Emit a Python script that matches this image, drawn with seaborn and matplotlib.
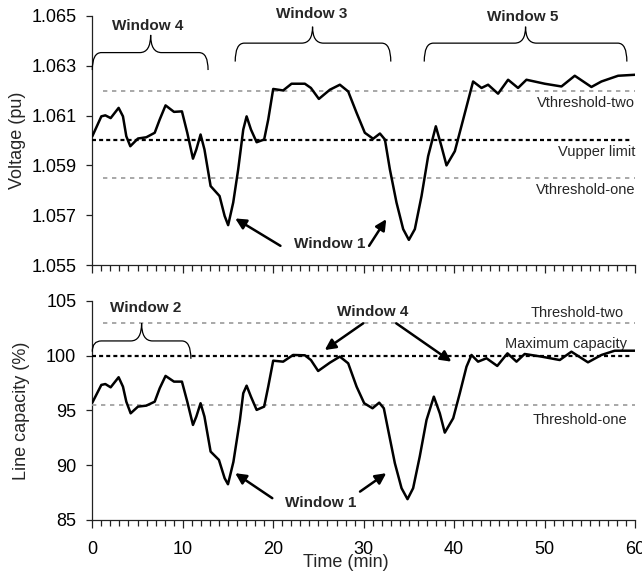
import numpy as np
import pandas as pd
import matplotlib
matplotlib.use("Agg")
import matplotlib.pyplot as plt
from matplotlib.path import Path
from matplotlib.patches import PathPatch
from matplotlib.ticker import MultipleLocator
import seaborn as sns

# ---------------- data ----------------
time_v = [0.0, 1.0, 1.44, 2.03, 2.91, 3.39, 3.76, 4.2, 5.05, 5.97, 6.9, 7.45, 8.1, 9.03, 9.91,
          10.5, 11.13, 11.5, 11.97, 12.4, 13.08, 14.07, 14.63, 15.02, 15.58, 16.13, 16.69, 17.06,
          17.54, 18.17, 19.0, 19.45, 20.0, 21.1, 22.03, 23.5, 24.17, 25.05, 26.27, 27.37, 28.29,
          29.22, 30.13, 31.05, 31.8, 32.35, 32.9, 33.63, 34.37, 35.0, 35.66, 36.4, 37.13, 37.98,
          38.6, 39.16, 40.08, 41.0, 42.1, 43.03, 43.76, 44.86, 45.97, 47.07, 48.0, 50.02, 51.87,
          53.34, 55.18, 56.29, 58.13, 60.0]
voltage = [1.06017, 1.06097, 1.06101, 1.0609, 1.06131, 1.06097, 1.06017, 1.05977, 1.06008, 1.06013,
           1.06031, 1.06084, 1.06141, 1.06115, 1.06117, 1.06031, 1.05927, 1.05964, 1.06024, 1.05964,
           1.05817, 1.05777, 1.05697, 1.0566, 1.05751, 1.05884, 1.06044, 1.06097, 1.06044, 1.05993,
           1.06004, 1.06084, 1.06207, 1.06201, 1.06228, 1.06228, 1.06211, 1.06167, 1.06204, 1.06224,
           1.06197, 1.06111, 1.06031, 1.06007, 1.06028, 1.06004, 1.05884, 1.05751, 1.05644, 1.05601,
           1.05644, 1.05777, 1.05937, 1.06057, 1.05977, 1.059, 1.05957, 1.06084, 1.06237, 1.06211,
           1.06224, 1.06188, 1.06244, 1.06211, 1.06244, 1.06228, 1.06217, 1.0626, 1.06215, 1.06237,
           1.0626, 1.06264]

time_c = [0.0, 1.0, 1.44, 2.03, 2.91, 3.39, 3.76, 4.24, 5.05, 5.97, 6.9, 7.45, 8.1, 9.03, 9.91,
          10.5, 11.13, 11.5, 11.97, 12.4, 13.08, 14.0, 14.63, 15.0, 15.6, 16.32, 16.69, 17.06,
          17.54, 18.17, 19.0, 19.45, 20.0, 21.1, 22.2, 23.5, 24.17, 24.97, 26.27, 27.37, 28.29,
          29.22, 30.06, 30.98, 31.72, 32.23, 32.71, 33.45, 34.19, 34.85, 35.47, 36.2, 36.95, 37.76,
          38.42, 38.97, 39.9, 40.63, 41.37, 41.92, 42.65, 43.58, 44.77, 45.9, 46.9, 47.8, 49.66,
          51.68, 52.97, 54.8, 56.29, 57.76, 60.0]
capacity = [95.7, 97.32, 97.4, 97.1, 98.02, 97.16, 95.79, 94.73, 95.34, 95.43, 95.79, 97.01, 98.14,
            97.62, 97.62, 95.79, 93.67, 94.43, 95.65, 94.43, 91.24, 90.48, 88.81, 88.26, 90.3, 94.12,
            96.56, 97.25, 96.25, 95.04, 95.34, 97.16, 99.53, 99.44, 100.05, 100.02, 99.59, 98.59,
            99.35, 99.9, 99.29, 97.16, 95.65, 95.19, 95.7, 95.19, 93.21, 90.18, 87.9, 86.9, 87.9,
            90.78, 94.12, 96.25, 94.73, 92.97, 94.28, 96.56, 98.98, 100.05, 99.44, 99.75, 99.05,
            100.2, 99.44, 100.14, 99.9, 99.59, 100.35, 99.38, 100.05, 100.44, 100.44]

v_levels = [1.0620, 1.0600, 1.0585]
v_level_names = ["Vthreshold-two", "Vupper limit", "Vthreshold-one"]
c_levels = [103.0, 100.0, 95.5]
c_level_names = ["Threshold-two", "Maximum capacity", "Threshold-one"]

v_ticks = [1.055, 1.057, 1.059, 1.061, 1.063, 1.065]
c_ticks = [85, 90, 95, 100, 105]
x_ticks = [0, 10, 20, 30, 40, 50, 60]

# ---------------- style ----------------
sns.set_style("ticks")
plt.rcParams['font.family'] = ['Liberation Sans', 'DejaVu Sans']
plt.rcParams['axes.edgecolor'] = '#222222'
plt.rcParams['axes.linewidth'] = 0.9

fig = plt.figure(figsize=(6.42, 5.76), dpi=100)
W, H = 642, 576
def ax_rect(l, t, r, b):
    return [l / W, 1 - b / H, (r - l) / W, (b - t) / H]

ax1 = fig.add_axes(ax_rect(92.3, 16, 635, 265))
ax2 = fig.add_axes(ax_rect(92.3, 300.7, 635, 520))

df_v = pd.DataFrame({"t": time_v, "v": voltage})
df_c = pd.DataFrame({"t": time_c, "c": capacity})

sns.lineplot(data=df_v, x="t", y="v", ax=ax1, color="black", lw=1.8, sort=False, estimator=None, zorder=5)
sns.lineplot(data=df_c, x="t", y="c", ax=ax2, color="black", lw=1.8, sort=False, estimator=None, zorder=5)

gray = "#9a9a9a"
def levels(ax, vals, starts):
    for i, val in enumerate(vals):
        if i == 1:
            ax.plot([0, 59.6], [val, val], color="black", lw=1.6, dashes=(1.8, 1.4), zorder=3)
        else:
            ax.plot([starts[i], 60], [val, val], color=gray, lw=1.2, dashes=(2.6, 2.8), zorder=3)

levels(ax1, v_levels, [1.2, 0, 1.2])
levels(ax2, c_levels, [1.2, 0, 0])

fs_lvl = 10.5
ax1.text(60, 1.06149, v_level_names[0], ha="right", va="center", fontsize=fs_lvl)
ax1.text(60, 1.05953, v_level_names[1], ha="right", va="center", fontsize=fs_lvl)
ax1.text(60, 1.05802, v_level_names[2], ha="right", va="center", fontsize=fs_lvl)
ax2.text(58.8, 103.85, c_level_names[0], ha="right", va="center", fontsize=fs_lvl)
ax2.text(59.1, 101.05, c_level_names[1], ha="right", va="center", fontsize=fs_lvl)
ax2.text(59.1, 94.15, c_level_names[2], ha="right", va="center", fontsize=fs_lvl)

# ---------------- braces ----------------
def brace(ax, x0, x1, xm, y_end0, y_end1, y_bar, y_tip, dx=1.0, dxm=1.2):
    verts = [(x0, y_end0), (x0, y_bar), (x0 + dx, y_bar),
             (xm - dxm, y_bar), (xm, y_bar), (xm, y_tip),
             (xm, y_bar), (xm + dxm, y_bar),
             (x1 - dx, y_bar), (x1, y_bar), (x1, y_end1)]
    codes = [Path.MOVETO, Path.CURVE3, Path.CURVE3,
             Path.LINETO, Path.CURVE3, Path.CURVE3,
             Path.CURVE3, Path.CURVE3,
             Path.LINETO, Path.CURVE3, Path.CURVE3]
    ax.add_patch(PathPatch(Path(verts, codes), fill=False, lw=0.9, edgecolor="black", clip_on=False, zorder=6))

brace(ax1, 0.0, 12.8, 6.45, 1.06283, 1.06283, 1.06353, 1.06424)
brace(ax1, 15.8, 33.0, 24.35, 1.06317, 1.06317, 1.06391, 1.06457)
brace(ax1, 36.7, 59.1, 47.9, 1.06317, 1.06317, 1.06391, 1.06457)
brace(ax2, 0.0, 10.9, 5.45, 100.35, 99.7, 101.33, 102.95)

fs_win = 11
ax1.text(6.1, 1.06458, "Window 4", ha="center", va="center", fontsize=fs_win, fontweight="bold")
ax1.text(24.3, 1.06508, "Window 3", ha="center", va="center", fontsize=fs_win, fontweight="bold", clip_on=False)
ax1.text(47.6, 1.06497, "Window 5", ha="center", va="center", fontsize=fs_win, fontweight="bold", clip_on=False)
ax2.text(5.9, 104.35, "Window 2", ha="center", va="center", fontsize=fs_win, fontweight="bold")

# ---------------- arrows ----------------
arr = dict(arrowstyle="-|>", lw=1.8, color="black", mutation_scale=16, shrinkA=0, shrinkB=0)
ax1.text(26.3, 1.05584, "Window 1", ha="center", va="center", fontsize=fs_win, fontweight="bold")
ax1.annotate("", xy=(15.8, 1.05687), xytext=(20.8, 1.05577), arrowprops=arr)
ax1.annotate("", xy=(32.5, 1.05684), xytext=(30.6, 1.05577), arrowprops=arr)

ax2.text(25.2, 86.56, "Window 1", ha="center", va="center", fontsize=fs_win, fontweight="bold")
ax2.annotate("", xy=(15.8, 89.27), xytext=(19.9, 86.99), arrowprops=arr)
ax2.annotate("", xy=(32.5, 89.27), xytext=(29.6, 87.59), arrowprops=arr)

ax2.text(31.0, 103.94, "Window 4", ha="center", va="center", fontsize=fs_win, fontweight="bold")
ax2.annotate("", xy=(25.7, 100.5), xytext=(29.95, 102.94), arrowprops=arr)
ax2.annotate("", xy=(39.7, 99.44), xytext=(33.6, 102.94), arrowprops=arr)

# ---------------- axes ----------------
fs_tick = 13
for ax in (ax1, ax2):
    ax.set_xlim(0, 60)
    ax.set_xticks(x_ticks)
    ax.xaxis.set_minor_locator(MultipleLocator(1))
    ax.tick_params(axis="x", which="major", direction="out", length=6, width=0.9, colors="#222222",
                   labelsize=fs_tick, pad=9, labelcolor="black")
    ax.tick_params(axis="x", which="minor", direction="out", length=4, width=0.9, colors="#222222")
    ax.tick_params(axis="y", which="major", direction="out", length=4.5, width=0.9, colors="#222222",
                   labelsize=fs_tick, pad=7, labelcolor="black")
    sns.despine(ax=ax)

ax1.set_ylim(1.055, 1.065)
ax1.set_yticks(v_ticks)
ax1.set_yticklabels([f"{v:.3f}" for v in v_ticks])
ax1.tick_params(axis="x", labelbottom=False)
ax1.set_xlabel("")
ax1.set_ylabel("Voltage (pu)", fontsize=13)
ax1.yaxis.set_label_coords(-0.123, 0.5)

ax2.set_ylim(85, 105)
ax2.set_yticks(c_ticks)
ax2.set_xlabel("Time (min)", fontsize=13)
ax2.xaxis.set_label_coords(0.467, -0.155)
ax2.set_ylabel("Line capacity (%)", fontsize=13)
ax2.yaxis.set_label_coords(-0.115, 0.5)

fig.savefig("out.png", dpi=100)
